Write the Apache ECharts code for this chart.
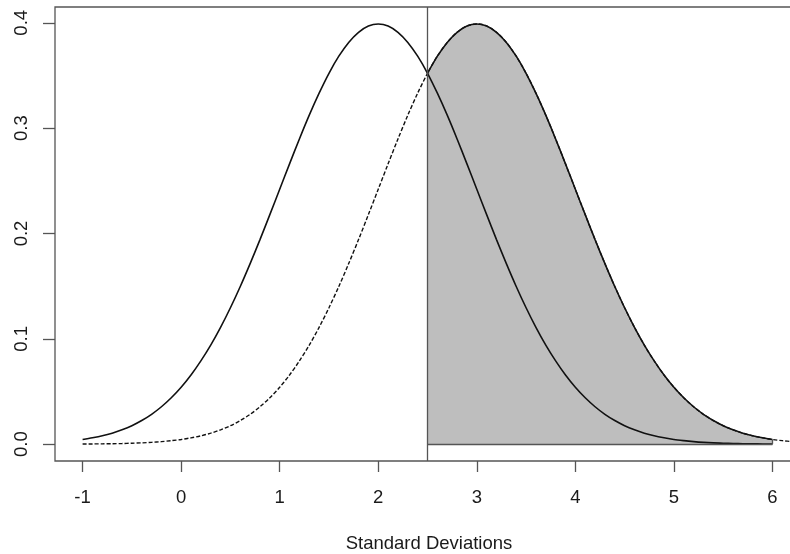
<!DOCTYPE html>
<html>
<head>
<meta charset="utf-8">
<script src="https://cdn.jsdelivr.net/npm/echarts@6.0.0/dist/echarts.min.js"></script>
<style>
  html, body { margin: 0; padding: 0; background: #fff; }
  #chart { width: 790px; height: 554px; }
</style>
</head>
<body>
<div id="chart"></div>
<script>
// x positions (standard deviations) the curves were read at
const xGrid = [
  -1, -0.9, -0.8, -0.7, -0.6, -0.5, -0.4, -0.3, -0.2, -0.1,
  0, 0.1, 0.2, 0.3, 0.4, 0.5, 0.6, 0.7, 0.8, 0.9,
  1, 1.1, 1.2, 1.3, 1.4, 1.5, 1.6, 1.7, 1.8, 1.9,
  2, 2.1, 2.2, 2.3, 2.4, 2.5, 2.6, 2.7, 2.8, 2.9,
  3, 3.1, 3.2, 3.3, 3.4, 3.5, 3.6, 3.7, 3.8, 3.9,
  4, 4.1, 4.2, 4.3, 4.4, 4.5, 4.6, 4.7, 4.8, 4.9,
  5, 5.1, 5.2, 5.3, 5.4, 5.5, 5.6, 5.7, 5.8, 5.9,
  6, 6.1, 6.2, 6.3, 6.4,
]

// solid curve (peak at 2), read from -1 to 6
const solidCurve = [
  0.0044, 0.0060, 0.0079, 0.0104, 0.0136, 0.0175, 0.0224, 0.0283, 0.0355, 0.0440,
  0.0540, 0.0656, 0.0790, 0.0940, 0.1109, 0.1295, 0.1497, 0.1714, 0.1942, 0.2179,
  0.2420, 0.2661, 0.2897, 0.3123, 0.3332, 0.3521, 0.3683, 0.3814, 0.3910, 0.3970,
  0.3989, 0.3970, 0.3910, 0.3814, 0.3683, 0.3521, 0.3332, 0.3123, 0.2897, 0.2661,
  0.2420, 0.2179, 0.1942, 0.1714, 0.1497, 0.1295, 0.1109, 0.0940, 0.0790, 0.0656,
  0.0540, 0.0440, 0.0355, 0.0283, 0.0224, 0.0175, 0.0136, 0.0104, 0.0079, 0.0060,
  0.0044, 0.0033, 0.0024, 0.0017, 0.0012, 0.0009, 0.0006, 0.0004, 0.0003, 0.0002,
  0.0001,
]

// dashed curve (peak at 3), read from -1 to 6.4
const dashedCurve = [
  0.0001, 0.0002, 0.0003, 0.0004, 0.0006, 0.0009, 0.0012, 0.0017, 0.0024, 0.0033,
  0.0044, 0.0060, 0.0079, 0.0104, 0.0136, 0.0175, 0.0224, 0.0283, 0.0355, 0.0440,
  0.0540, 0.0656, 0.0790, 0.0940, 0.1109, 0.1295, 0.1497, 0.1714, 0.1942, 0.2179,
  0.2420, 0.2661, 0.2897, 0.3123, 0.3332, 0.3521, 0.3683, 0.3814, 0.3910, 0.3970,
  0.3989, 0.3970, 0.3910, 0.3814, 0.3683, 0.3521, 0.3332, 0.3123, 0.2897, 0.2661,
  0.2420, 0.2179, 0.1942, 0.1714, 0.1497, 0.1295, 0.1109, 0.0940, 0.0790, 0.0656,
  0.0540, 0.0440, 0.0355, 0.0283, 0.0224, 0.0175, 0.0136, 0.0104, 0.0079, 0.0060,
  0.0044, 0.0033, 0.0024, 0.0017, 0.0012,
]

const cutoff = 2.5
const shadeEnd = 6

const xTicks = [-1, 0, 1, 2, 3, 4, 5, 6]
const yTicks = [0, 0.1, 0.2, 0.3, 0.4]

const solidData = solidCurve.map((v, i) => [xGrid[i], v])
const dashedData = dashedCurve.map((v, i) => [xGrid[i], v])
const shadeData = dashedData.filter(p => p[0] >= cutoff && p[0] <= shadeEnd)
const shadeEndValue = shadeData[shadeData.length - 1][1]

const fontFamily = 'Arial, "Liberation Sans", sans-serif'
const textColor = '#1a1a1a'
const frameColor = '#555'

const chart = echarts.init(document.getElementById('chart'))
chart.setOption({
  animation: false,
  backgroundColor: '#fff',
  grid: {
    left: 55,
    top: 7,
    width: 748,
    height: 454,
    outerBoundsMode: 'none',
    containLabel: false,
    show: true,
    borderColor: frameColor,
    borderWidth: 1.3,
    backgroundColor: 'transparent',
  },
  xAxis: {
    type: 'value',
    min: -1.28,
    max: 6.31,
    name: 'Standard Deviations',
    nameLocation: 'middle',
    nameGap: 73,
    nameTextStyle: { fontSize: 18.5, color: textColor, fontFamily },
    axisLine: { show: false, onZero: false },
    splitLine: { show: false },
    axisTick: {
      show: true,
      length: 11,
      customValues: xTicks,
      lineStyle: { color: frameColor, width: 1.3 },
    },
    axisLabel: {
      customValues: xTicks,
      fontSize: 18.5,
      color: textColor,
      fontFamily,
      margin: 27,
    },
  },
  yAxis: {
    type: 'value',
    min: -0.016,
    max: 0.415,
    axisLine: { show: false, onZero: false },
    splitLine: { show: false },
    axisTick: {
      show: true,
      length: 12,
      customValues: yTicks,
      lineStyle: { color: frameColor, width: 1.3 },
    },
    axisLabel: {
      customValues: yTicks,
      rotate: 90,
      fontSize: 18.5,
      color: textColor,
      fontFamily,
      margin: 24,
      formatter: v => v.toFixed(1),
    },
  },
  series: [
    {
      type: 'line',
      data: dashedData,
      smooth: 0.3,
      symbol: 'none',
      lineStyle: { color: '#111', width: 1.4, type: [4, 2] },
      silent: true,
    },
    {
      type: 'line',
      data: shadeData,
      smooth: 0.3,
      symbol: 'none',
      lineStyle: { color: '#111', width: 1.6 },
      areaStyle: { color: '#bebebe', opacity: 1 },
      silent: true,
      markLine: {
        silent: true,
        symbol: 'none',
        label: { show: false },
        lineStyle: { color: frameColor, width: 1.3, type: 'solid' },
        data: [
          [{ coord: [cutoff, 0] }, { coord: [shadeEnd, 0] }],
          [{ coord: [shadeEnd, 0] }, { coord: [shadeEnd, shadeEndValue] }],
        ],
      },
    },
    {
      type: 'line',
      data: solidData,
      smooth: 0.3,
      symbol: 'none',
      lineStyle: { color: '#111', width: 1.6 },
      silent: true,
      markLine: {
        silent: true,
        symbol: 'none',
        label: { show: false },
        lineStyle: { color: frameColor, width: 1.3, type: 'solid' },
        data: [{ xAxis: cutoff }],
      },
    },
  ],
})
</script>
</body>
</html>
